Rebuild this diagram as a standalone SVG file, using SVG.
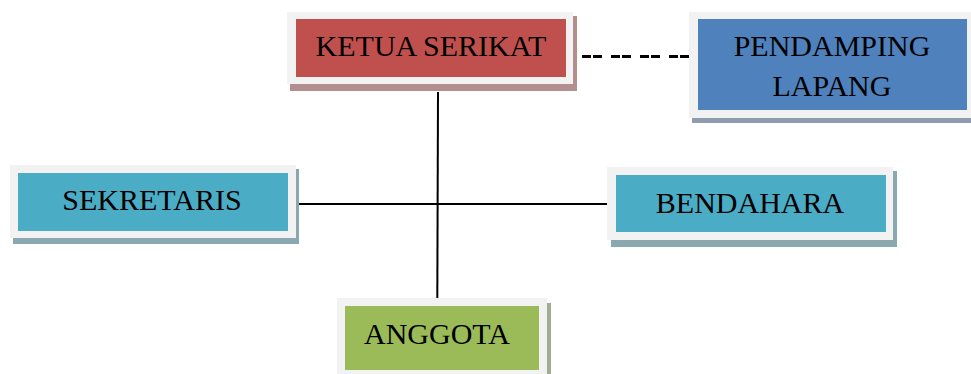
<svg xmlns="http://www.w3.org/2000/svg" width="971" height="374" viewBox="0 0 971 374">
<style>
.frame{fill:#f2f2f2}
.lbl{font-family:"Liberation Serif","Times New Roman",serif;font-size:30px;fill:#000;text-anchor:middle}
.conn{stroke:#000;stroke-width:2;fill:none}
</style>
<rect width="971" height="374" fill="#fff"/>
<g id="connectors">
<line class="conn" x1="438" y1="92" x2="437.3" y2="298"/>
<line class="conn" x1="294" y1="204" x2="610" y2="204"/>
<line x1="582" y1="56.5" x2="690" y2="56.5" stroke="#000" stroke-width="3" stroke-dasharray="9 2 9 9"/>
</g>
<g id="ketua">
<rect x="290" y="16" width="287" height="75" fill="#b38e8e"/>
<rect class="frame" x="287" y="12" width="286" height="72"/>
<rect x="296" y="19" width="270" height="58" fill="#c0504d"/>
<text class="lbl" x="431" y="56">KETUA SERIKAT</text>
</g>
<g id="pendamping">
<rect x="692" y="16" width="279" height="107" fill="#8e9cb0"/>
<rect class="frame" x="689" y="12" width="282" height="106"/>
<rect x="698" y="19" width="269" height="91" fill="#4f81bd"/>
<text class="lbl" x="832" y="56">PENDAMPING</text>
<text class="lbl" x="832" y="96">LAPANG</text>
</g>
<g id="sekretaris">
<rect x="13" y="169" width="286" height="75" fill="#8aa8b0"/>
<rect class="frame" x="10" y="165" width="286" height="73"/>
<rect x="18" y="173" width="270" height="58" fill="#4bacc6"/>
<text class="lbl" x="152" y="210">SEKRETARIS</text>
</g>
<g id="bendahara">
<rect x="611" y="171" width="286" height="76" fill="#8aa8b0"/>
<rect class="frame" x="607" y="167" width="286" height="73"/>
<rect x="616" y="175" width="270" height="57" fill="#4bacc6"/>
<text class="lbl" x="750" y="213">BENDAHARA</text>
</g>
<g id="anggota">
<rect x="340" y="303" width="211" height="75" fill="#a3ab93"/>
<rect class="frame" x="337" y="298" width="210" height="80"/>
<rect x="345" y="306" width="194" height="64" fill="#9bbb59"/>
<text class="lbl" x="437" y="344">ANGGOTA</text>
</g>
</svg>
